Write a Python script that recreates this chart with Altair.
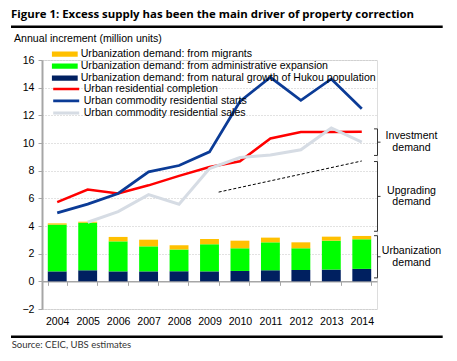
import altair as alt
import pandas as pd

# ---------------- data ----------------
years = ["2004", "2005", "2006", "2007", "2008", "2009", "2010", "2011", "2012", "2013", "2014"]

natural_growth = [0.72, 0.80, 0.72, 0.72, 0.72, 0.72, 0.75, 0.80, 0.82, 0.85, 0.90]
admin_expansion = [3.38, 3.44, 2.17, 1.81, 1.59, 1.96, 1.64, 2.02, 1.57, 2.09, 2.14]
migrants = [0.09, 0.07, 0.32, 0.48, 0.29, 0.38, 0.55, 0.34, 0.43, 0.29, 0.24]

completion = [5.72, 6.64, 6.35, 6.94, 7.62, 8.27, 8.68, 10.33, 10.79, 10.80, 10.82]
starts = [4.95, 5.58, 6.35, 7.91, 8.37, 9.36, 13.00, 14.75, 13.09, 14.63, 12.48]
sales = [None, 4.27, 5.04, 6.27, 5.57, 8.15, 8.95, 9.13, 9.51, 11.09, 10.06]

bar_series = [
    "Urbanization demand: from migrants",
    "Urbanization demand: from administrative expansion",
    "Urbanization demand: from natural growth of Hukou population",
]
bar_colors = ["#FFC000", "#00FF00", "#002060"]

line_series = [
    "Urban residential completion",
    "Urban commodity residential starts",
    "Urban commodity residential sales",
]
line_colors = ["#FF0000", "#0B3B96", "#D6DCE4"]
line_widths = [2.5, 3, 3]

trend_x = [2009.3, 2014.0]
trend_y = [6.45, 8.70]

bracket_labels = ["Investment\ndemand", "Upgrading\ndemand", "Urbanization\ndemand"]
bracket_low = [9.10, 3.62, 0.25]
bracket_high = [11.02, 8.66, 3.30]

y_ticks = [-2, 0, 2, 4, 6, 8, 10, 12, 14, 16]

title_text = "Figure 1: Excess supply has been the main driver of property correction"
unit_text = "Annual increment (million units)"
source_text = "Source: CEIC, UBS estimates"

# ---------------- tables ----------------
bar_rows = []
for i, yr in enumerate(years):
    for k, (name, vals) in enumerate(
        [(bar_series[2], natural_growth), (bar_series[1], admin_expansion), (bar_series[0], migrants)]
    ):
        bar_rows.append({"year": yr, "series": name, "value": vals[i], "stack": k})
bar_df = pd.DataFrame(bar_rows)

line_rows = []
for name, vals in zip(line_series, [completion, starts, sales]):
    for yr, v in zip(years, vals):
        if v is not None:
            line_rows.append({"year": yr, "series": name, "value": v})
line_df = pd.DataFrame(line_rows)

trend_df = pd.DataFrame({"x": trend_x, "y": trend_y})
bracket_df = pd.DataFrame({
    "label": bracket_labels,
    "low": bracket_low,
    "high": bracket_high,
    "mid": [(a + b) / 2 for a, b in zip(bracket_low, bracket_high)],
})

W, H = 335, 249
FONT = "Liberation Sans"
FS = 10.6
GRAY = "#A6A6A6"

y_scale = alt.Scale(domain=[-2, 16], nice=False, zero=False)
y_axis = alt.Axis(
    values=y_ticks, title=None, grid=True, gridColor="#C4C4C4", gridDash=[1, 2],
    gridWidth=1, domainColor=GRAY, domainWidth=2, tickColor=GRAY, tickSize=4,
    tickWidth=1, labelFont=FONT, labelFontSize=FS, labelColor="black", labelPadding=4,
)
x_axis = alt.Axis(
    title=None, labelAngle=0, offset=-2 * H / 18, tickBand="extent", tickSize=4,
    tickColor=GRAY, tickWidth=1, domainColor=GRAY, domainWidth=1.5, labelPadding=31,
    labelFont=FONT, labelFontSize=FS, labelColor="black", grid=False,
)
x_scale = alt.Scale(domain=years, paddingInner=0.38, paddingOuter=0.19)

bars = alt.Chart(bar_df).mark_bar().encode(
    x=alt.X("year:O", scale=x_scale, axis=x_axis),
    y=alt.Y("value:Q", stack="zero", scale=y_scale, axis=y_axis),
    fill=alt.Fill(
        "series:N",
        scale=alt.Scale(domain=bar_series, range=bar_colors),
        legend=alt.Legend(
            title=None, orient="none", legendX=9.7, legendY=-11.8,
            symbolType="M-1,-0.2H1V0.2H-1Z", symbolSize=676, symbolStrokeWidth=0,
            clipHeight=11.7, rowPadding=0, labelOffset=3, labelFont=FONT,
            labelFontSize=FS, labelColor="black", labelLimit=400, padding=0,
        ),
    ),
    order=alt.Order("stack:Q"),
)

lines = alt.Chart(line_df).mark_line().encode(
    x=alt.X("year:O", scale=x_scale, axis=x_axis),
    y=alt.Y("value:Q", scale=y_scale, axis=y_axis),
    stroke=alt.Stroke(
        "series:N",
        scale=alt.Scale(domain=line_series, range=line_colors),
        legend=alt.Legend(
            title=None, orient="none", legendX=9.7, legendY=23.2,
            symbolType="stroke", symbolSize=676, symbolStrokeWidth=3,
            clipHeight=11.4, rowPadding=0, labelOffset=3, labelFont=FONT,
            labelFontSize=FS, labelColor="black", labelLimit=400, padding=0,
        ),
    ),
    strokeWidth=alt.StrokeWidth(
        "series:N", scale=alt.Scale(domain=line_series, range=line_widths), legend=None
    ),
)

main = alt.layer(bars, lines)

trend = alt.Chart(trend_df).mark_line(color="black", strokeWidth=1, strokeDash=[3, 2]).encode(
    x=alt.X("x:Q", scale=alt.Scale(domain=[2003.5, 2014.5], nice=False, zero=False), axis=None),
    y=alt.Y("y:Q", scale=y_scale, axis=y_axis),
)

BX = W + 0.5
br_color = "#333333"
br_vert = alt.Chart(bracket_df).mark_rule(color=br_color, strokeWidth=1).encode(
    x=alt.value(BX), y=alt.Y("low:Q", scale=y_scale, axis=y_axis), y2="high:Q"
)
br_top = alt.Chart(bracket_df).mark_rule(color=br_color, strokeWidth=1).encode(
    x=alt.value(BX - 3.5), x2=alt.value(BX), y=alt.Y("high:Q", scale=y_scale, axis=y_axis)
)
br_bot = alt.Chart(bracket_df).mark_rule(color=br_color, strokeWidth=1).encode(
    x=alt.value(BX - 3.5), x2=alt.value(BX), y=alt.Y("low:Q", scale=y_scale, axis=y_axis)
)
br_mid = alt.Chart(bracket_df).mark_rule(color=br_color, strokeWidth=1).encode(
    x=alt.value(BX), x2=alt.value(BX + 3), y=alt.Y("mid:Q", scale=y_scale, axis=y_axis)
)
br_text = alt.Chart(bracket_df).mark_text(
    align="center", baseline="middle", lineBreak="\n", lineHeight=11.5, dy=-5.7,
    font=FONT, fontSize=FS, color="black",
).encode(
    x=alt.value(W + 34.5), y=alt.Y("mid:Q", scale=y_scale, axis=y_axis), text="label:N"
)

one = pd.DataFrame({"t": [title_text], "u": [unit_text], "s": [source_text]})
title_mark = alt.Chart(one).mark_text(
    align="left", baseline="alphabetic", font="Open Sans", fontWeight="bold", fontSize=11.4, color="black"
).encode(x=alt.value(-31), y=alt.value(-42.5), text="t:N")
unit_mark = alt.Chart(one).mark_text(
    align="left", baseline="alphabetic", font=FONT, fontSize=FS, color="black"
).encode(x=alt.value(-28), y=alt.value(-18.3), text="u:N")
source_mark = alt.Chart(one).mark_text(
    align="left", baseline="alphabetic", font="Lato", fontSize=9.5, color="#333333"
).encode(x=alt.value(-30.3), y=alt.value(288.3), text="s:N")
rule_top = alt.Chart(one).mark_rule(color="black", strokeWidth=2.5).encode(
    x=alt.value(-31), x2=alt.value(400.7), y=alt.value(-33.3)
)
rule_bottom = alt.Chart(one).mark_rule(color="black", strokeWidth=2.5).encode(
    x=alt.value(-31), x2=alt.value(400.7), y=alt.value(276.7)
)

chart = alt.layer(
    main, trend, br_vert, br_top, br_bot, br_mid, br_text,
    title_mark, unit_mark, source_mark, rule_top, rule_bottom,
).resolve_scale(x="independent").properties(
    width=W, height=H,
    autosize=alt.AutoSizeParams(type="none"),
    padding={"left": 34, "top": 52, "right": 71, "bottom": 44},
).configure_view(stroke=None).configure(background="white")

chart.save("out.html", embed_options={"renderer": "svg", "actions": False})
